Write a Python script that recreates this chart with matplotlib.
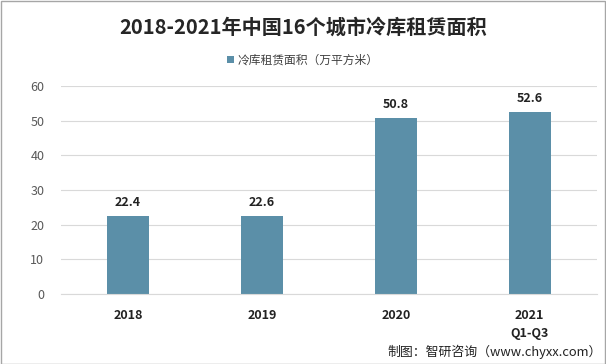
import matplotlib
matplotlib.use("Agg")
import matplotlib.pyplot as plt
from matplotlib.patches import Rectangle

plt.rcParams['font.family'] = ['Noto Sans CJK SC', 'DejaVu Sans']

categories = ["2018", "2019", "2020", "2021\nQ1-Q3"]
values = [22.4, 22.6, 50.8, 52.6]
series_name = "冷库租赁面积（万平方米）"
title = "2018-2021年中国16个城市冷库租赁面积"
source = "制图：智研咨询（www.chyxx.com）"

bar_color = "#5b8fa8"

fig = plt.figure(figsize=(6.06, 3.64), dpi=100)
ax = fig.add_axes([0.1007, 0.192, 0.884, 0.572])

x = range(len(categories))
bars = ax.bar(x, values, width=0.31, color=bar_color, label=series_name, zorder=2)

for xi, v in zip(x, values):
    ax.text(xi, v + 2.0, f"{v:.1f}", ha="center", va="bottom",
            fontsize=9, fontweight="bold", color="#222222")

ax.set_xlim(-0.5, len(categories) - 0.5)
ax.set_ylim(0, 60)
ax.set_yticks(range(0, 61, 10))
ax.set_xticks(list(x))
ax.set_xticklabels(categories, fontsize=9, fontweight="bold", color="#222222",
                   linespacing=1.5)
ax.tick_params(axis="y", labelsize=9, labelcolor="#595959", length=0, pad=12)
ax.tick_params(axis="x", length=0, pad=11)
ax.grid(axis="y", color="#d9d9d9", linewidth=0.8, zorder=0)
for s in ["top", "right", "left"]:
    ax.spines[s].set_visible(False)
ax.spines["bottom"].set_color("#d9d9d9")

fig.text(0.5, 0.925, title, ha="center", va="center", fontsize=14.5,
         fontweight="bold", color="#262626")

leg = fig.legend(handles=[bars], labels=[series_name], loc="center",
                 bbox_to_anchor=(0.5, 0.835), frameon=False, fontsize=8.5,
                 handlelength=0.6, handleheight=0.6, handletextpad=0.3)
for t in leg.get_texts():
    t.set_color("#404040")

fig.text(0.993, 0.033, source, ha="right", va="center", fontsize=9.3, color="#222222")

fig.patches.append(Rectangle((0.001, 0.001), 0.997, 0.996, transform=fig.transFigure,
                             fill=False, edgecolor="#a6a6a6", linewidth=1))

fig.savefig("out.png", dpi=100)
